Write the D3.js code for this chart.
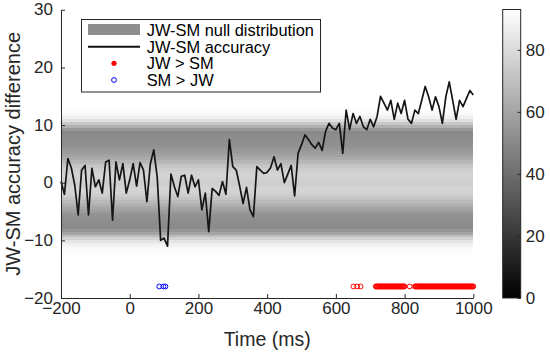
<!DOCTYPE html>
<html lang="en">
<head>
<meta charset="UTF-8">
<title>JW-SM accuracy difference</title>
<script src="https://cdnjs.cloudflare.com/ajax/libs/d3/7.8.5/d3.min.js"></script>
<style>
  body { margin: 0; background: #fff; }
  text { font-family: "Liberation Sans", Arial, Helvetica, sans-serif; }
</style>
</head>
<body>
<div id="chart"></div>
<script>
    // accuracy difference, one value every 10 ms from -200 ms
    var lineStart = -200, lineStep = 10;
    var accuracy = [
        0.2, -2.0, 4.2, 2.6, -0.4, -5.6, 2.2, 3.0, -5.6, 2.5,
        -0.7, 0.5, -1.8, 3.6, 3.9, -6.5, 3.6, 0.5, 3.3, -1.8,
        0.5, 3.3, -0.6, 3.5, 2.2, -3.3, 3.3, 5.7, 1.0, -10.0,
        -9.6, -11.0, 1.5, -0.7, -2.4, 1.1, 1.3, -1.8, 1.3, -0.7,
        0.5, -4.7, -1.8, -8.5, -1.0, -1.5, -2.2, 0.2, -2.0, 7.5,
        2.8, 2.2, -0.6, -3.6, -0.8, -4.7, -5.9, 2.8, 2.2, 1.6,
        1.8, 2.6, 4.5, 2.2, 3.3, 0.0, 1.5, 3.0, -2.3, 5.1,
        6.6, 8.3, 7.5, 6.6, 6.0, 7.0, 5.6, 8.9, 10.3, 9.5,
        9.2, 10.3, 5.1, 12.6, 9.2, 12.0, 10.3, 11.5, 9.7, 9.2,
        11.0, 9.7, 11.5, 15.0, 13.8, 12.6, 14.3, 11.0, 13.8, 12.0,
        14.3, 11.0, 10.3, 12.6, 12.0, 14.3, 16.7, 14.9, 12.6, 14.9,
        13.2, 10.3, 14.9, 17.5, 14.3, 11.0, 14.3, 13.2, 14.6, 16.0,
        15.2
    ];

    // null distribution, rows of 0.5: lower edge, mean count, share of time bins filled
    var nullLow = [13, 12.5, 12, 11.5, 11, 10.5, 10, 9.5, 9, 8.5,
        8, 7.5, 7, 6.5, 6, 5.5, 5, 4.5, 4, 3.5,
        3, 2.5, 2, 1.5, 1, 0.5, 0, -0.5, -1, -1.5,
        -2, -2.5, -3, -3.5, -4, -4.5, -5, -5.5, -6, -6.5,
        -7, -7.5, -8, -8.5, -9, -9.5, -10, -10.5, -11, -11.5,
        -12, -12.5, -13];
    var nullCount = [3, 3, 3, 3, 3, 4, 4, 5, 5, 7,
        9, 10, 11, 12, 14, 17, 21, 26, 32, 39,
        46, 52, 57, 60, 62, 60, 58, 58, 60, 62,
        60, 56, 50, 43, 36, 29, 23, 18, 14, 12,
        10, 9, 8, 7, 5, 5, 4, 4, 3, 3,
        3, 3, 3];
    var nullCover = [0.01, 0.015, 0.03, 0.06, 0.12, 0.25, 0.45, 0.65, 0.85, 1,
        1, 1, 1, 1, 1, 1, 1, 1, 1, 1,
        1, 1, 1, 1, 1, 1, 1, 1, 1, 1,
        1, 1, 1, 1, 1, 1, 1, 1, 1, 1,
        1, 1, 1, 0.9, 0.75, 0.55, 0.38, 0.22, 0.12, 0.06,
        0.03, 0.015, 0.01];

    // significant time points (ms); runs are sampled every 2 ms
    var jwTimes = [651, 662, 672, 815];
    var jwRuns = [[716, 800], [830, 1000]];
    var smTimes = [86, 98, 104];
    var markY = -18;

    var xTicks = [-200, 0, 200, 400, 600, 800, 1000];
    var yTicks = [-20, -10, 0, 10, 20, 30];
    var cbTicks = [0, 20, 40, 60, 80];
    var cbMax = 93;

    var legendLabels = ["JW-SM null distribution", "JW-SM accuracy", "JW > SM", "SM > JW"];

    var width = 550, height = 353;
    var axisColor = "#262626";

    var svg = d3.select("#chart").append("svg")
        .attr("width", width)
        .attr("height", height);
    svg.append("rect").attr("width", width).attr("height", height).attr("fill", "#fff");

    var x = d3.scaleLinear().domain([-200, 1000]).range([61, 473.3]);
    var y = d3.scaleLinear().domain([-20, 30]).range([298, 9.8]);
    var gray = d3.scaleLinear().domain([0, cbMax]).range(["#000", "#fff"]);

    // heatmap rows (drawn half transparent over white)
    svg.append("g").selectAll("rect")
        .data(nullLow)
        .enter().append("rect")
        .attr("x", x(-200))
        .attr("width", x(1000) - x(-200))
        .attr("y", function (d) { return y(d + 0.5); })
        .attr("height", function (d) { return y(d) - y(d + 0.5); })
        .attr("fill", function (d, i) { return gray(nullCount[i]); })
        .attr("fill-opacity", function (d, i) { return 0.5 * nullCover[i]; })
        .attr("shape-rendering", "crispEdges");

    var line = d3.line()
        .x(function (d, i) { return x(lineStart + i * lineStep); })
        .y(function (d) { return y(d); });

    svg.append("path")
        .datum(accuracy)
        .attr("d", line)
        .attr("fill", "none")
        .attr("stroke", "#151515")
        .attr("stroke-width", 1.7)
        .attr("stroke-linejoin", "round");

    var jwAll = jwTimes.slice();
    jwRuns.forEach(function (r) {
        for (var t = r[0]; t <= r[1]; t += 2) jwAll.push(t);
    });

    svg.append("g").selectAll("circle")
        .data(jwAll)
        .enter().append("circle")
        .attr("cx", function (d) { return x(d); })
        .attr("cy", y(markY))
        .attr("r", 2.4)
        .attr("fill", "none")
        .attr("stroke", "#ff0000")
        .attr("stroke-width", 1);

    svg.append("g").selectAll("circle")
        .data(smTimes)
        .enter().append("circle")
        .attr("cx", function (d) { return x(d); })
        .attr("cy", y(markY))
        .attr("r", 2.4)
        .attr("fill", "none")
        .attr("stroke", "#0000ff")
        .attr("stroke-width", 1);

    // axes
    var xAxis = svg.append("g")
        .attr("transform", "translate(0," + y(-20) + ")")
        .call(d3.axisBottom(x).tickValues(xTicks).tickFormat(d3.format("d"))
            .tickSizeInner(-4).tickSizeOuter(0).tickPadding(4));
    var yAxis = svg.append("g")
        .attr("transform", "translate(" + x(-200) + ",0)")
        .call(d3.axisLeft(y).tickValues(yTicks).tickFormat(d3.format("d"))
            .tickSizeInner(-4).tickSizeOuter(0).tickPadding(8));

    [xAxis, yAxis].forEach(function (g) {
        g.select(".domain").attr("stroke", axisColor);
        g.selectAll(".tick line").attr("stroke", axisColor);
        g.selectAll(".tick text")
            .attr("fill", axisColor)
            .style("font-size", "17px")
            .style("font-family", '"Liberation Sans", Arial, sans-serif');
    });
    yAxis.selectAll(".tick text").attr("dy", "0.3em");

    svg.append("text")
        .attr("x", (x(-200) + x(1000)) / 2)
        .attr("y", 346)
        .attr("text-anchor", "middle")
        .attr("fill", axisColor)
        .style("font-size", "19.5px")
        .text("Time (ms)");

    svg.append("text")
        .attr("transform", "translate(20," + (y(-20) + y(30)) / 2 + ") rotate(-90)")
        .attr("text-anchor", "middle")
        .attr("fill", axisColor)
        .style("font-size", "20px")
        .text("JW-SM accuracy difference");

    // colorbar
    var cb = d3.scaleLinear().domain([0, cbMax]).range([298, 9.5]);
    var grad = svg.append("defs").append("linearGradient")
        .attr("id", "cbgrad")
        .attr("x1", 0).attr("y1", 1).attr("x2", 0).attr("y2", 0);
    grad.append("stop").attr("offset", 0).attr("stop-color", gray(0));
    grad.append("stop").attr("offset", 1).attr("stop-color", gray(cbMax));

    svg.append("rect")
        .attr("x", 502.7)
        .attr("y", cb(cbMax))
        .attr("width", 18)
        .attr("height", cb(0) - cb(cbMax))
        .attr("fill", "url(#cbgrad)")
        .attr("stroke", axisColor)
        .attr("stroke-width", 1);

    var cbAxis = svg.append("g")
        .attr("transform", "translate(520.7,0)")
        .call(d3.axisRight(cb).tickValues(cbTicks).tickSizeInner(-3).tickSizeOuter(0).tickPadding(5));
    cbAxis.select(".domain").remove();
    cbAxis.selectAll(".tick line").attr("stroke", axisColor);
    cbAxis.selectAll(".tick text")
        .attr("fill", axisColor)
        .style("font-size", "17px")
        .style("font-family", '"Liberation Sans", Arial, sans-serif');

    // legend
    var legend = svg.append("g");
    legend.append("rect")
        .attr("x", 81.5).attr("y", 19.5)
        .attr("width", 239).attr("height", 72.5)
        .attr("fill", "#fff")
        .attr("stroke", axisColor)
        .attr("stroke-width", 1);

    var rowY = [30, 46.7, 63.3, 80];
    legend.append("rect")
        .attr("x", 88).attr("y", 24)
        .attr("width", 52).attr("height", 11)
        .attr("fill", gray(nullCount[12]))
        .attr("fill-opacity", 0.5);
    legend.append("line")
        .attr("x1", 88).attr("x2", 140)
        .attr("y1", rowY[1]).attr("y2", rowY[1])
        .attr("stroke", "#111").attr("stroke-width", 2);
    legend.append("circle")
        .attr("cx", 114).attr("cy", rowY[2]).attr("r", 2.6)
        .attr("fill", "#ff0000");
    legend.append("circle")
        .attr("cx", 114).attr("cy", rowY[3]).attr("r", 2.4)
        .attr("fill", "none").attr("stroke", "#0000ff").attr("stroke-width", 1);

    legend.selectAll("text.lab")
        .data(legendLabels)
        .enter().append("text")
        .attr("class", "lab")
        .attr("x", 146.7)
        .attr("y", function (d, i) { return rowY[i] + 6; })
        .attr("fill", "#000")
        .style("font-size", "16.4px")
        .text(function (d) { return d; });
</script>
</body>
</html>
